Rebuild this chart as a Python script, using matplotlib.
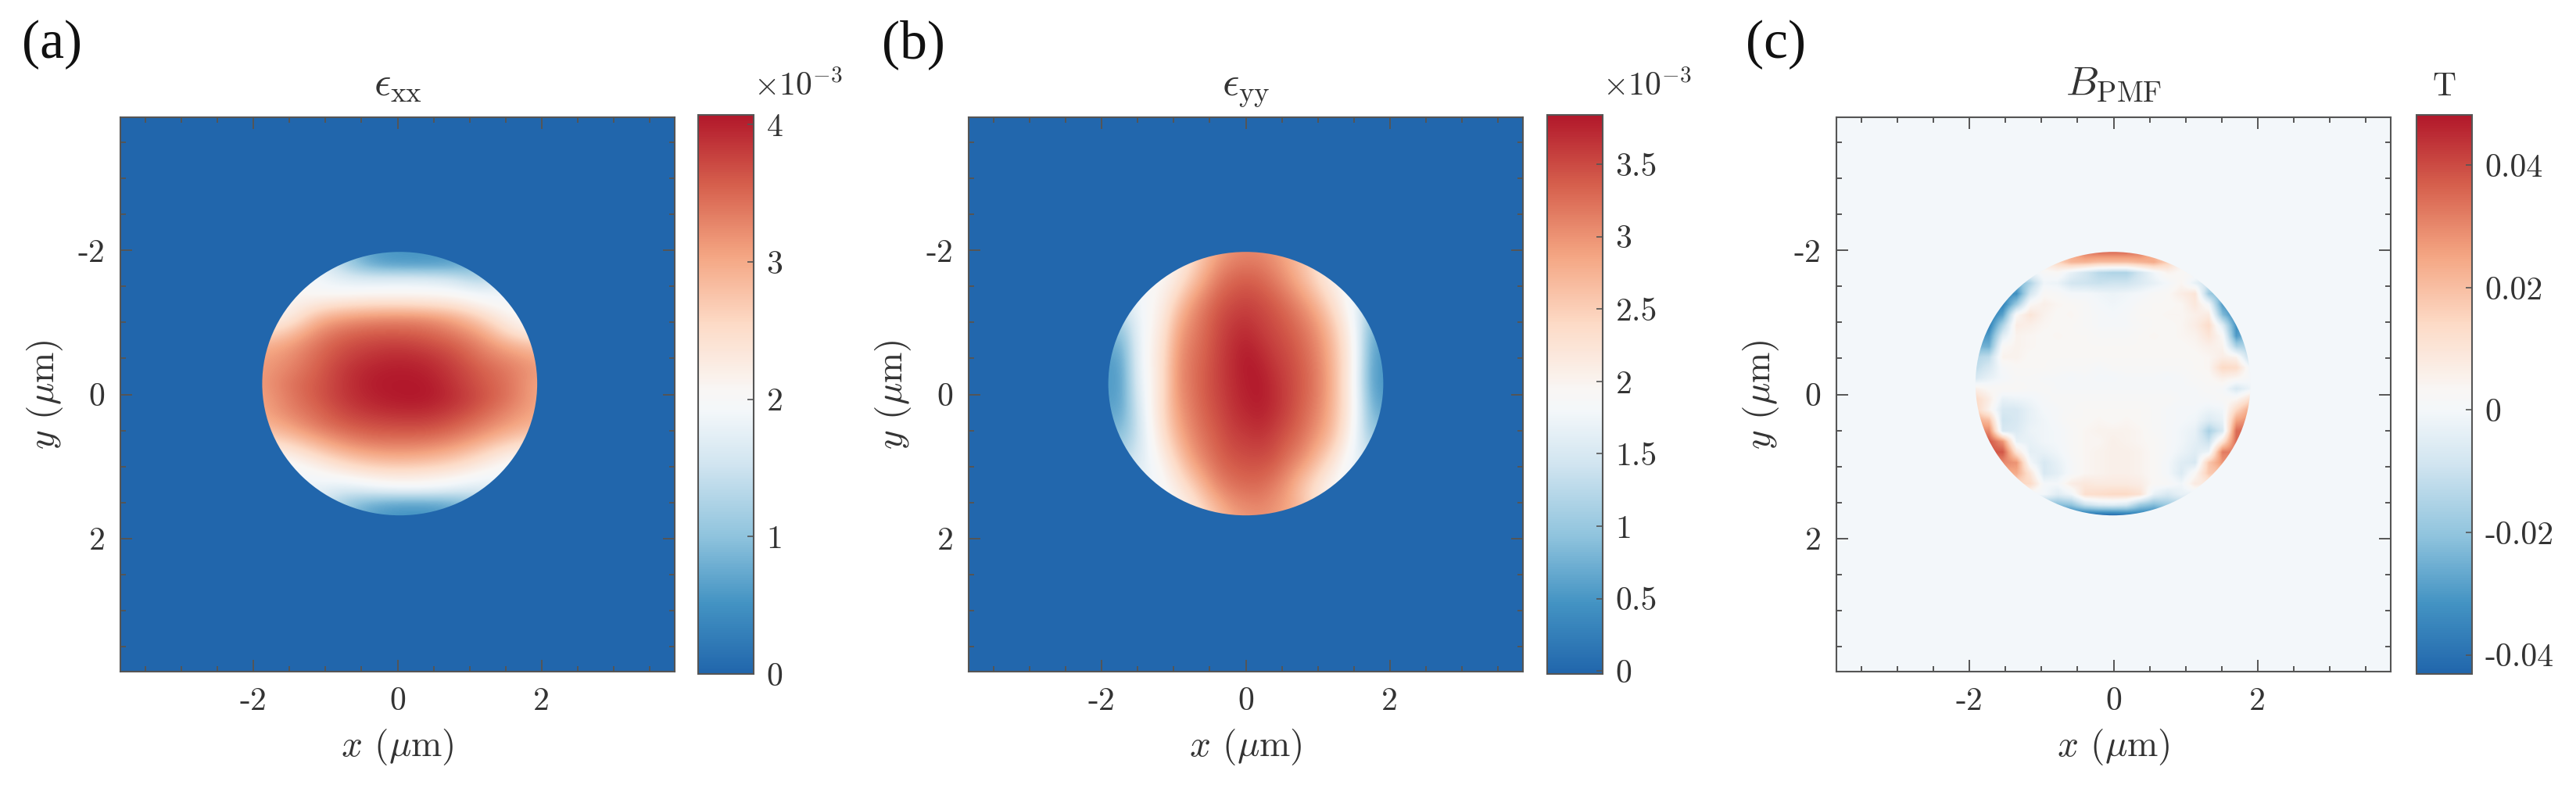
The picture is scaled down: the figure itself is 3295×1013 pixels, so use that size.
import numpy as np
import matplotlib
matplotlib.use('Agg')
import matplotlib.pyplot as plt
from matplotlib.colors import LinearSegmentedColormap, Normalize
from matplotlib.patches import Ellipse

plt.rcParams['font.family'] = ['cmr10', 'DejaVu Sans']
plt.rcParams['mathtext.fontset'] = 'cm'
plt.rcParams['axes.unicode_minus'] = False
plt.rcParams['axes.formatter.use_mathtext'] = True

W, H = 3295, 1013
TEXT = '#333333'
EDGE = '#555555'

# strain xx, in units of 1e-3, rows top to bottom
exx = [
    [1.9, 1.9, 1.9, 1.1, 0.6, 0.55, 0.55, 0.6, 0.9, 1.9, 1.9],
    [1.9, 1.9, 1.9, 1.2, 0.7, 0.6, 0.6, 0.65, 0.9, 1.9, 1.9],
    [2.0, 2.0, 1.9, 1.7, 1.65, 1.7, 1.65, 1.55, 1.1, 1.8, 1.9],
    [2.1, 2.1, 2.0, 1.95, 2.0, 2.0, 2.0, 1.95, 1.8, 1.85, 1.9],
    [2.1, 2.1, 2.35, 2.5, 2.55, 2.55, 2.5, 2.4, 2.1, 1.95, 1.95],
    [2.2, 2.2, 2.9, 3.1, 3.2, 3.25, 3.2, 3.0, 2.6, 2.1, 2.0],
    [2.4, 2.7, 3.2, 3.45, 3.55, 3.55, 3.5, 3.3, 3.0, 2.4, 2.1],
    [2.9, 3.05, 3.4, 3.65, 3.75, 3.8, 3.7, 3.55, 3.25, 2.9, 2.7],
    [3.05, 3.2, 3.5, 3.75, 3.9, 3.95, 3.9, 3.7, 3.4, 3.2, 3.0],
    [3.1, 3.3, 3.55, 3.85, 4.0, 4.05, 4.0, 3.8, 3.55, 3.35, 3.1],
    [3.1, 3.4, 3.6, 3.85, 4.05, 4.07, 4.07, 3.85, 3.6, 3.4, 3.0],
    [3.05, 3.35, 3.6, 3.85, 4.0, 4.07, 4.07, 3.9, 3.65, 3.4, 3.0],
    [3.0, 3.3, 3.5, 3.75, 3.9, 3.95, 3.95, 3.8, 3.55, 3.25, 3.0],
    [2.9, 3.1, 3.4, 3.6, 3.7, 3.75, 3.75, 3.6, 3.35, 3.1, 2.9],
    [2.6, 2.8, 3.1, 3.35, 3.5, 3.5, 3.5, 3.35, 3.1, 2.8, 2.6],
    [2.2, 2.35, 2.7, 3.0, 3.15, 3.2, 3.15, 3.0, 2.7, 2.35, 2.2],
    [1.9, 2.0, 2.25, 2.55, 2.75, 2.8, 2.75, 2.6, 2.3, 2.0, 1.9],
    [1.9, 1.85, 1.95, 2.1, 2.25, 2.3, 2.25, 2.15, 1.95, 1.85, 1.9],
    [1.8, 1.8, 1.8, 1.6, 1.8, 1.9, 1.9, 1.75, 1.6, 1.8, 1.8],
    [1.8, 1.8, 1.7, 1.1, 0.8, 0.7, 0.7, 0.8, 1.1, 1.8, 1.8],
    [1.8, 1.8, 1.7, 1.0, 0.6, 0.5, 0.5, 0.6, 1.0, 1.8, 1.8],
]

# strain yy, in units of 1e-3
eyy = [
    [1.8, 1.8, 1.8, 1.8, 1.9, 2.0, 2.3, 2.6, 2.85, 3.0, 3.05, 3.05, 2.95, 2.8, 2.6, 2.35, 2.05, 1.9, 1.8, 1.8, 1.8],
    [1.7, 1.7, 1.8, 1.9, 1.95, 2.15, 2.5, 2.85, 3.15, 3.3, 3.35, 3.3, 3.15, 2.95, 2.7, 2.4, 2.1, 1.9, 1.75, 1.7, 1.7],
    [1.5, 1.5, 1.7, 1.9, 2.1, 2.55, 2.95, 3.2, 3.4, 3.5, 3.55, 3.5, 3.4, 3.25, 3.05, 2.8, 2.45, 2.05, 1.65, 1.1, 1.1],
    [0.9, 0.9, 1.6, 1.95, 2.25, 2.85, 3.1, 3.3, 3.5, 3.65, 3.7, 3.6, 3.5, 3.4, 3.25, 3.05, 2.75, 2.3, 1.8, 0.8, 0.6],
    [0.55, 0.65, 1.55, 2.0, 2.35, 2.95, 3.2, 3.35, 3.55, 3.7, 3.84, 3.75, 3.6, 3.5, 3.35, 3.15, 2.85, 2.4, 1.85, 0.7, 0.5],
    [0.55, 0.6, 1.5, 1.95, 2.35, 3.0, 3.2, 3.4, 3.55, 3.7, 3.8, 3.84, 3.7, 3.55, 3.4, 3.2, 2.9, 2.4, 1.8, 0.65, 0.5],
    [0.6, 0.65, 1.35, 1.95, 2.4, 2.9, 3.15, 3.35, 3.5, 3.65, 3.75, 3.8, 3.7, 3.55, 3.35, 3.15, 2.85, 2.4, 1.85, 0.85, 0.6],
    [0.9, 0.9, 1.3, 1.85, 2.3, 2.75, 3.05, 3.25, 3.4, 3.55, 3.6, 3.65, 3.55, 3.4, 3.25, 3.0, 2.75, 2.3, 1.75, 1.0, 1.0],
    [1.3, 1.3, 1.5, 1.75, 2.05, 2.45, 2.85, 3.1, 3.3, 3.4, 3.45, 3.45, 3.4, 3.2, 3.0, 2.7, 2.35, 1.95, 1.65, 1.5, 1.5],
    [1.7, 1.7, 1.7, 1.7, 1.85, 2.1, 2.4, 2.75, 3.05, 3.2, 3.25, 3.25, 3.1, 2.9, 2.55, 2.25, 1.95, 1.8, 1.7, 1.7, 1.7],
    [1.8, 1.8, 1.8, 1.8, 1.85, 1.9, 2.05, 2.35, 2.6, 2.85, 2.95, 3.0, 2.95, 2.85, 2.7, 2.4, 2.1, 1.9, 1.8, 1.8, 1.8],
]

# pseudo magnetic field, in mT
bpmf = [
    [3, 3, 3, 3, 3, 3, 12, 24, 33, 35, 35, 35, 33, 22, 8, 3, 3, 3, 3, 3, 3],
    [3, 3, 3, 3, 3, 8, 15, 22, 22, 20, 20, 20, 22, 24, 16, 5, 3, 3, 3, 3, 3],
    [3, 3, 3, 3, -2, 2, 3, -3, -8, -13, -15, -15, -8, -1, 5, 3, 3, 3, 3, 3, 3],
    [3, 3, 3, -25, -15, -1, -2, -8, -9, -10, -9, -9, -6, -3, 0, 4, -3, -10, -10, 3, 3],
    [3, 3, -32, -32, -8, 3, 2, 0, 0, -1, -2, -1, 0, 2, 3, 7, 10, -18, -24, -24, 3],
    [3, -34, -36, -18, 3, 6, 4, 3, 2, 0, -1, 0, 2, 3, 3, 4, 9, 0, -30, -34, -34],
    [-36, -38, -28, 3, 10, 5, 3, 4, 2, 1, 0, 1, 3, 3, 4, 4, 6, 8, -22, -35, -35],
    [-36, -36, -15, 7, 6, 4, 3, 3, 2, 1, 1, 1, 2, 3, 3, 4, 7, 13, -5, -32, -32],
    [-32, -30, -5, 5, 4, 3, 4, 3, 3, 2, 2, 2, 3, 4, 3, 4, 5, 10, 3, -30, -20],
    [-24, -25, 3, 5, 4, 3, 3, 3, 3, 3, 3, 3, 3, 3, 3, 3, 4, 6, 5, -15, -15],
    [-14, -12, 5, 5, 3, 3, 3, 3, 3, 3, 3, 3, 3, 3, 3, 3, 3, 4, 7, 5, -12],
    [-12, -7, 1, 3, 3, 3, 2, 2, 2, 1, 2, 2, 2, 2, 2, 2, 3, 4, 14, 13, 0],
    [-7, -3, 0, 2, 2, 1, 1, 0, 1, 0, 0, 1, 1, 1, 0, 1, 2, 3, 6, 4, 1],
    [6, 3, 3, 3, 2, 2, 1, 1, 1, 1, 1, 1, 1, 1, 1, 1, 1, 2, 1, -7, -2],
    [14, 7, -3, -2, -1, 1, 2, 2, 2, 2, 2, 2, 2, 2, 2, 1, 1, 1, 2, 4, 12],
    [15, 5, -7, -7, -3, 0, 1, 2, 3, 3, 3, 3, 3, 2, 1, 0, 0, -2, -1, 14, 25],
    [24, 20, -9, -7, -3, -1, 1, 3, 3, 4, 3, 4, 3, 2, 1, 0, -1, -6, -3, 25, 30],
    [30, 30, -7, -6, -2, -1, 0, 2, 4, 5, 5, 5, 4, 2, 1, -1, -3, -16, -7, 35, 35],
    [38, 38, 28, -3, -3, -1, 0, 2, 4, 4, 6, 5, 4, 3, 1, -1, -4, -10, 10, 35, 35],
    [38, 38, 38, 10, -4, -3, -1, 2, 4, 5, 6, 6, 5, 3, 1, -2, -5, -2, 32, 32, 32],
    [30, 30, 30, 28, 0, -7, -3, 1, 4, 5, 6, 6, 5, 3, 0, -5, -7, 18, 28, 28, 28],
    [24, 24, 24, 24, 10, -7, -4, 1, 4, 5, 6, 6, 5, 3, 0, -6, 3, 18, 18, 18, 18],
    [14, 14, 14, 14, 14, 0, 0, 7, 9, 8, 8, 8, 7, 3, 2, -1, 8, 8, 8, 8, 8],
    [0, 0, 0, 0, 0, 0, -5, -1, 12, 13, 14, 14, 11, -3, -7, -3, -3, -3, -3, -3, -3],
    [-20, -20, -20, -20, -20, -20, -22, -20, -10, -6, -5, -7, -18, -22, -18, -15, -15, -15, -15, -15, -15],
    [-40, -40, -40, -40, -40, -40, -40, -40, -42, -42, -42, -40, -38, -38, -30, -30, -30, -30, -30, -30, -30],
]

xticks = [-2, 0, 2]
yticks = [-2, 0, 2]
cb_ticks_a = [0, 1, 2, 3, 4]
cb_labels_a = ['0', '1', '2', '3', '4']
cb_ticks_b = [0, 0.5, 1, 1.5, 2, 2.5, 3, 3.5]
cb_labels_b = ['0', '0.5', '1', '1.5', '2', '2.5', '3', '3.5']
cb_ticks_c = [-40, -20, 0, 20, 40]
cb_labels_c = ['-0.04', '-0.02', '0', '0.02', '0.04']

rdbu = LinearSegmentedColormap.from_list('rdbu', [(0, '#2166ac'), (0.125, '#4393c3'), (0.25, '#92c5de'),
                                                  (0.375, '#d1e5f0'), (0.47, '#f3f7fa'), (0.51, '#f9f6f4'),
                                                  (0.625, '#fddbc7'), (0.75, '#f4a582'), (0.875, '#d6604d'),
                                                  (1, '#b2182b')], N=256)


def add_ax(l, t, w, h):
    return fig.add_axes([l / W, 1 - (t + h) / H, w / W, h / H])


def panel(left, cb_left, grid, box, disc, lims, title, ticks, labels, letter, letter_x, unit, interp):
    ax = add_ax(left, 150, 709, 709)
    norm = Normalize(lims[0], lims[1])
    ax.set_facecolor(rdbu(norm(0)))
    z = np.array(grid, dtype=float)
    dx = (box[1] - box[0]) / (z.shape[1] - 1)
    dy = (box[3] - box[2]) / (z.shape[0] - 1)
    im = ax.imshow(z, cmap=rdbu, norm=norm, aspect='auto', interpolation=interp,
                   extent=(box[0] - dx / 2, box[1] + dx / 2, box[3] + dy / 2, box[2] - dy / 2))
    el = Ellipse(disc[:2], disc[2], disc[3], transform=ax.transData, fc='none', ec='none')
    ax.add_patch(el)
    im.set_clip_path(el)
    ax.set_xlim(-3.85, 3.85)
    ax.set_ylim(3.85, -3.85)
    ax.set_xticks(xticks, [str(v) for v in xticks])
    ax.set_yticks(yticks, [str(v) for v in yticks])
    ax.set_xticks(np.arange(-3.5, 3.6, 0.5), minor=True)
    ax.set_yticks(np.arange(-3.5, 3.6, 0.5), minor=True)
    ax.tick_params(which='major', direction='in', top=True, right=True, length=11, width=1.4,
                   color=EDGE, labelsize=30, labelcolor=TEXT, pad=14)
    ax.tick_params(which='minor', direction='in', top=True, right=True, length=5, width=1.4, color=EDGE)
    for s in ax.spines.values():
        s.set_color(EDGE)
        s.set_linewidth(1.5)
    ax.set_xlabel(r'$x$ ($\mu$m)', fontsize=34, color=TEXT, labelpad=10)
    ax.set_ylabel(r'$y$ ($\mu$m)', fontsize=34, color=TEXT, labelpad=12)
    ax.set_title(title, fontsize=38, color=TEXT, pad=20)

    cax = add_ax(cb_left, 147, 71, 715)
    cb = fig.colorbar(im, cax=cax)
    cb.set_ticks(ticks, labels=labels)
    cb.ax.tick_params(direction='in', length=6, width=1.2, color=EDGE, labelsize=30, labelcolor=TEXT, pad=12)
    cb.outline.set_edgecolor(EDGE)
    cb.outline.set_linewidth(1.5)
    fig.text((cb_left + unit[1]) / W, 1 - 122 / H, unit[0], fontsize=unit[2], color=TEXT, ha='center', va='baseline')
    fig.text(letter_x / W, 1 - 74 / H, letter, fontsize=50, family='Liberation Serif', color='#111111',
             ha='left', va='baseline')


fig = plt.figure(figsize=(W / 100, H / 100), dpi=100)

panel(154, 893, exx, (-1.90, 1.96, -1.98, 1.68), (0.03, -0.15, 3.82, 3.66), (0, 4.07),
      r'$\epsilon_{\mathrm{xx}}$', cb_ticks_a, cb_labels_a, '(a)', 28, (r'$\times 10^{-3}$', 128, 30), 'bicubic')
panel(1239, 1979, eyy, (-1.91, 1.91, -1.98, 1.68), (0.0, -0.15, 3.82, 3.66), (-0.02, 3.84),
      r'$\epsilon_{\mathrm{yy}}$', cb_ticks_b, cb_labels_b, '(b)', 1128, (r'$\times 10^{-3}$', 128, 30), 'bicubic')
panel(2349, 3091, bpmf, (-1.916, 1.90, -1.98, 1.68), (-0.008, -0.15, 3.82, 3.66), (-43.1, 48.2),
      r'$B_{\mathrm{PMF}}$', cb_ticks_c, cb_labels_c, '(c)', 2233, ('T', 36, 30), 'bilinear')

fig.savefig('out.png', dpi=100)
